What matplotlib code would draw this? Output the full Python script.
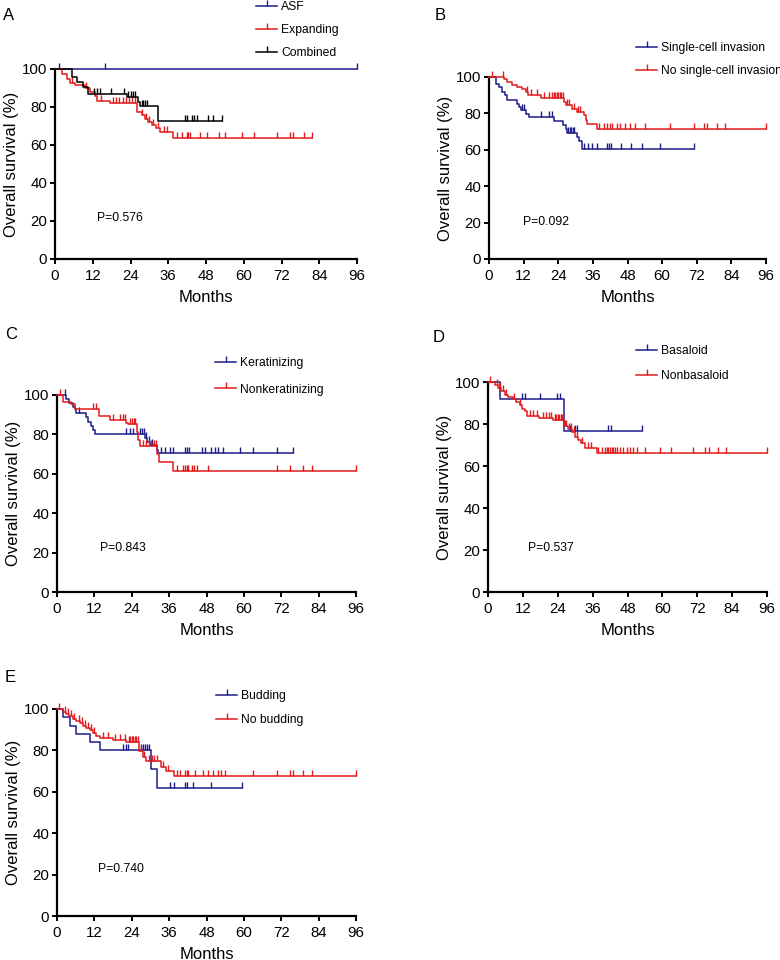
import numpy as np
import matplotlib
matplotlib.use("Agg")
import matplotlib.pyplot as plt
from matplotlib.lines import Line2D

plt.rcParams['font.family'] = ['Liberation Sans', 'DejaVu Sans']

BLUE = '#1c1c8c'
RED = '#e31a1c'
BLACK = '#000000'

# ---------------- Panel A ----------------
A_labels = ['ASF', 'Expanding', 'Combined']
A_asf_t, A_asf_s = [], []
A_asf_c = [1.3, 16, 96]
A_exp_t = [2.1, 3.7, 4.8, 6.4, 9.5, 11, 12.7, 13.5, 17.5, 26.2, 27.5, 28.5, 29.7, 30.7, 32, 33.4, 37.6]
A_exp_s = [97.3, 95, 92.5, 91.5, 90, 88, 86, 83, 82, 77.5, 75.6, 73.9, 72, 70.4, 69, 66.8, 63.7]
A_exp_c = [5.5, 10, 14.5, 18.5, 19.5, 20.5, 21.5, 22.5, 23.5, 24.5, 25.5, 27.8, 28.8, 30, 31.2, 32.8, 34.5, 35.5,
           38.7, 40.3, 41.9, 42.4, 43, 46.1, 48.3, 52, 54, 59.4, 63.1, 70.7, 74.7, 75.8, 79, 81.7]
A_com_t = [5.3, 7, 9, 10.5, 22.8, 26.3, 27, 32.8]
A_com_s = [96, 93, 90.5, 87, 85.5, 82.5, 80.3, 72.6]
A_com_c = [12.5, 13.2, 14.3, 17.8, 22, 23.3, 24, 24.8, 25.5, 27.5, 28, 28.6, 29.2,
           41.3, 42.1, 43.4, 44.2, 45, 48.7, 50.1, 53.2]
A_p = 'P=0.576'

# ---------------- Panel B ----------------
B_labels = ['Single-cell invasion', 'No single-cell invasion']
B_sci_t = [2.3, 3.5, 4.6, 5.4, 6.1, 9.8, 10.4, 11.2, 12.7, 13.9, 22.5, 25.7, 26.6, 27.2, 30.4, 31.2, 32.3]
B_sci_s = [96.3, 94.5, 91.8, 89.9, 87.2, 85.3, 83.5, 81.7, 79.9, 78, 75.6, 73.4, 71.2, 69.2, 67, 64.7, 60.6]
B_sci_c = [11.5, 12, 17.9, 20.8, 21.9, 27.5, 28, 28.5, 29, 29.5, 32.9, 34.4, 35.8, 37.5, 41, 41.6, 42.2,
           45.6, 49.1, 53.1, 59.1, 70.9]
B_nos_t = [5.2, 6.1, 8.1, 9.8, 11.5, 12.7, 13.5, 17.9, 26, 26.6, 28.6, 30.6, 32.9, 33.5, 34.1, 37.5]
B_nos_s = [98.7, 97.3, 95.8, 94.5, 93.2, 91.8, 90.3, 88.5, 86.3, 84.4, 82.6, 80.8, 78.9, 76.2, 74.4, 71.6]
B_nos_c = [0.9, 5, 13.3, 14.4, 16.7, 19, 20.8, 21.9, 22.5, 23, 23.5, 24, 24.5, 25, 25.5, 27.1, 27.7, 29.5,
           31, 31.5, 38.2, 39.7, 40.8, 42, 42.6, 44.3, 45.4, 47.2, 48.7, 50.6, 54.1, 62.8, 70.9, 74.6,
           75.7, 79, 81.9, 96]
B_p = 'P=0.092'

# ---------------- Panel C ----------------
C_labels = ['Keratinizing', 'Nonkeratinizing']
C_ker_t = [3, 4, 5, 5.7, 6.2, 9.2, 10, 10.8, 11.6, 12.3, 28.3, 29, 29.8, 32, 32.5]
C_ker_s = [98, 96, 94, 92.7, 91, 89, 86.4, 84.2, 82, 80, 78, 76.3, 74.5, 72, 70.5]
C_ker_c = [2.7, 7, 22.3, 23.4, 24.4, 26.6, 27.2, 27.8, 28.7, 29.5, 30.5, 33.5, 34.6, 36.2, 37.1, 41,
           41.6, 42.4, 46.4, 47.5, 49.6, 50.7, 51.8, 53.4, 58.9, 63, 70.5, 75.9]
C_non_t = [1.9, 4.6, 5.9, 13.5, 16.9, 22.3, 22.8, 25.7, 26.1, 26.5, 32, 32.8, 37.3]
C_non_s = [96.6, 95.5, 93, 89.5, 87.3, 86, 85.3, 81, 77, 74, 70.3, 66.1, 61.5]
C_non_c = [0.9, 11.6, 12.6, 18, 20.1, 21.2, 21.8, 23.4, 24, 24.6, 25.2, 27.7, 28.7, 29.6, 30.3, 31.1,
           31.9, 38.4, 40.5, 41, 41.6, 42.1, 43.2, 43.9, 44.8, 48.6, 70.5, 74.8, 79.1, 81.8, 96]
C_p = 'P=0.843'

# ---------------- Panel D ----------------
D_labels = ['Basaloid', 'Nonbasaloid']
D_bas_t = [4, 26.1]
D_bas_s = [92, 76.8]
D_bas_c = [11.8, 12.8, 17.9, 23.6, 24.8, 28.2, 29.9, 30.5, 41.4, 42.2, 53.1]
D_non_t = [2.3, 3.4, 4.6, 5.7, 6.9, 8.6, 9.8, 10.9, 11.8, 12.6, 13.4, 17.6, 22.4, 26.1, 27.5, 29, 30,
           31, 32, 33.3, 37.4]
D_non_s = [98.5, 97, 95.5, 94, 93, 92, 90.5, 89, 87, 86, 84, 83, 82, 79.2, 77.5, 76, 74, 72.5, 71,
           68.5, 66]
D_non_c = [0.8, 3, 4, 5, 6.3, 9, 11, 14.4, 15.5, 16.7, 18.9, 20.1, 21, 21.8, 23, 23.5, 24, 24.5, 25,
           25.5, 26.5, 27, 28, 28.5, 29.5, 30.5, 32.5, 34.5, 35.5, 37.9, 39.1, 40.2, 40.8, 41.4, 42,
           42.5, 43.1, 43.7, 44.3, 45.4, 46.6, 47.7, 48.9, 50, 51.1, 54, 59.2, 62.9, 70.7, 74.7, 75.9,
           79.3, 81.9, 96]
D_p = 'P=0.537'

# ---------------- Panel E ----------------
E_labels = ['Budding', 'No budding']
E_bud_t = [1.9, 4.1, 6.2, 10.5, 13.7, 30.1, 32]
E_bud_s = [96, 92, 88, 84, 80, 71, 62]
E_bud_c = [21.2, 22, 22.8, 27.1, 27.7, 28.3, 28.9, 29.5, 36.4, 37.5, 41, 41.8, 43.7, 49.6, 59.5]
E_nob_t = [1.9, 3, 4, 5.1, 6.2, 7.3, 8.3, 9.4, 10.5, 11.6, 12.6, 13.7, 18, 22.3, 26.4, 27.5, 28.7,
           33.5, 35, 37.5]
E_nob_s = [98.5, 97.5, 96.5, 95, 94, 93, 92, 91, 90, 88.5, 87, 86, 85, 84, 79.5, 77, 75, 72, 70, 67.5]
E_nob_c = [0.8, 2.7, 3.5, 4.5, 5.5, 7, 8, 9, 10, 11, 12, 14.8, 16.4, 18.5, 20.1, 21.8, 23, 23.5, 24,
           24.5, 25, 25.5, 26, 27, 28, 29.5, 30.5, 31.3, 32, 34, 35.5, 38.4, 39.4, 41, 41.6, 42.1, 44.3,
           46.9, 48.6, 50.2, 51.8, 52.8, 53.9, 63, 70.7, 74.8, 75.9, 79.1, 81.8, 96]
E_p = 'P=0.740'

x_ticks = [0, 12, 24, 36, 48, 60, 72, 84, 96]
y_ticks = [0, 20, 40, 60, 80, 100]

W, H = 780, 960
fig = plt.figure(figsize=(W / 100, H / 100), dpi=100)


def px_axes(x0, x1, ytop, ybot):
    return fig.add_axes([x0 / W, 1 - ybot / H, (x1 - x0) / W, (ybot - ytop) / H])


def km(ax, t, s, c, color):
    t = list(t)
    s = list(s)
    end = max([0] + t + list(c))
    xs = np.array([0] + t + [end], dtype=float)
    ys = np.array([100] + s + [s[-1] if s else 100], dtype=float)
    ax.step(xs, ys, where='post', color=color, lw=1.1, clip_on=False, zorder=3)
    if len(c):
        steps_t = np.array([0] + t, dtype=float)
        steps_s = np.array([100] + s, dtype=float)
        idx = np.searchsorted(steps_t, np.array(c, dtype=float), side='right') - 1
        ax.plot(c, steps_s[idx], linestyle='none', marker=2, ms=4, mew=1.0,
                color=color, clip_on=False, zorder=3)


def style(ax, p_text, p_xy):
    ax.set_xlim(0, 96)
    ax.set_ylim(0, 100)
    ax.set_xticks(x_ticks)
    ax.set_yticks(y_ticks)
    for sp in ['top', 'right']:
        ax.spines[sp].set_visible(False)
    for sp in ['left', 'bottom']:
        ax.spines[sp].set_linewidth(1.6)
    ax.tick_params(axis='x', which='major', direction='out', length=3.5, width=1.4,
                   labelsize=10.8, pad=4, colors='black')
    ax.tick_params(axis='y', which='major', direction='out', length=3.5, width=1.4,
                   labelsize=10.8, pad=2, colors='black')
    ax.set_xlabel('Months', fontsize=12, labelpad=4.5)
    ax.set_ylabel('Overall survival (%)', fontsize=12, labelpad=2)
    ax.text(p_xy[0], p_xy[1], p_text, fontsize=8.7, ha='left', va='center')


def legend(ax, labels, colors, x_px, y_px, spacing):
    handles = [Line2D([], [], color=col, lw=1.1, marker=2, ms=4, mew=1.0) for col in colors]
    ax.legend(handles, labels, loc='upper left', bbox_to_anchor=(x_px / W, 1 - y_px / H),
              bbox_transform=fig.transFigure, frameon=False, fontsize=8.7, borderpad=0,
              borderaxespad=0, handlelength=1.75, handletextpad=0.35, labelspacing=spacing,
              numpoints=1)


# Panel A
axA = px_axes(55, 357, 69, 259)
km(axA, A_asf_t, A_asf_s, A_asf_c, BLUE)
km(axA, A_exp_t, A_exp_s, A_exp_c, RED)
km(axA, A_com_t, A_com_s, A_com_c, BLACK)
style(axA, A_p, (13.3, 21.6))
legend(axA, A_labels, [BLUE, RED, BLACK], 256, 1, 0.9)
fig.text(3 / W, 1 - 15 / H, 'A', fontsize=12, ha='left', va='center')

# Panel B
axB = px_axes(489, 766, 77, 259)
km(axB, B_sci_t, B_sci_s, B_sci_c, BLUE)
km(axB, B_nos_t, B_nos_s, B_nos_c, RED)
style(axB, B_p, (11.8, 20.3))
legend(axB, B_labels, [BLUE, RED], 636, 42, 0.9)
fig.text(435 / W, 1 - 15 / H, 'B', fontsize=12, ha='left', va='center')

# Panel C
axC = px_axes(57, 356, 395, 592)
km(axC, C_ker_t, C_ker_s, C_ker_c, BLUE)
km(axC, C_non_t, C_non_s, C_non_c, RED)
style(axC, C_p, (13.8, 22.3))
legend(axC, C_labels, [BLUE, RED], 215, 357, 1.2)
fig.text(5 / W, 1 - 335 / H, 'C', fontsize=12, ha='left', va='center')

# Panel D
axD = px_axes(488, 767, 382, 592)
km(axD, D_bas_t, D_bas_s, D_bas_c, BLUE)
km(axD, D_non_t, D_non_s, D_non_c, RED)
style(axD, D_p, (13.8, 21.0))
legend(axD, D_labels, [BLUE, RED], 636, 345, 1.07)
fig.text(433 / W, 1 - 337 / H, 'D', fontsize=12, ha='left', va='center')

# Panel E
axE = px_axes(57, 356, 709, 916)
km(axE, E_bud_t, E_bud_s, E_bud_c, BLUE)
km(axE, E_nob_t, E_nob_s, E_nob_c, RED)
style(axE, E_p, (13.2, 22.7))
legend(axE, E_labels, [BLUE, RED], 216, 690, 1.0)
fig.text(5 / W, 1 - 678 / H, 'E', fontsize=12, ha='left', va='center')

fig.savefig('out.png', dpi=100, facecolor='white')
